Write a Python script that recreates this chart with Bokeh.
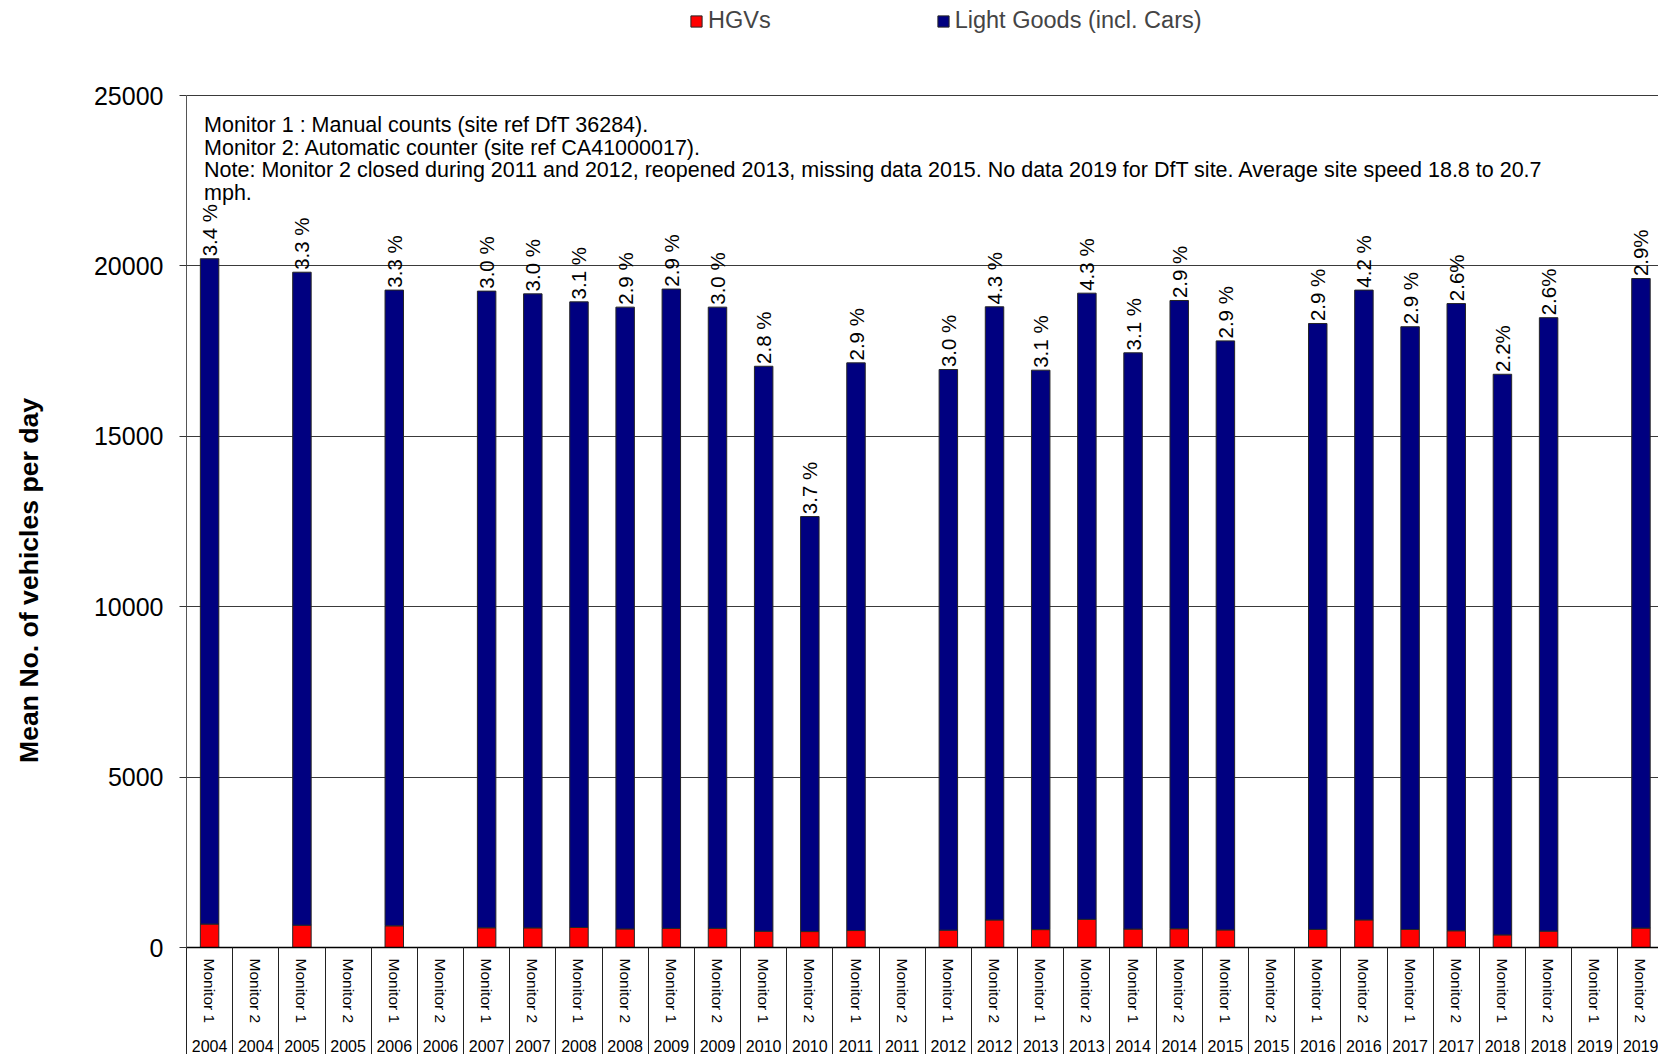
import math

from bokeh.core.properties import value
from bokeh.embed import file_html
from bokeh.layouts import row
from bokeh.models import (ColumnDataSource, FixedTicker, Grid, Label, Legend,
                          LegendItem, LinearAxis, Range1d)
from bokeh.plotting import figure
from bokeh.resources import INLINE

# ---------------------------------------------------------------------------
# Data: mean number of vehicles per day at the two monitoring sites
# ---------------------------------------------------------------------------
years = list(range(2004, 2020))
monitors = ["Monitor 1", "Monitor 2"]

# total vehicles per day (HGVs + light goods), one entry per year/monitor pair
total_vehicles = [
    20210, None,    # 2004
    19815, None,    # 2005
    19290, None,    # 2006
    19260, 19180,   # 2007
    18945, 18790,   # 2008
    19320, 18790,   # 2009
    17055, 12645,   # 2010
    17155, None,    # 2011
    16960, 18800,   # 2012
    16940, 19200,   # 2013
    17450, 18985,   # 2014
    17800, None,    # 2015
    18310, 19290,   # 2016
    18215, 18895,   # 2017
    16820, 18480,   # 2018
    None, 19630,    # 2019
]

# HGV share of the total, as printed above each bar
hgv_share_labels = [
    "3.4 %", None,
    "3.3 %", None,
    "3.3 %", None,
    "3.0 %", "3.0 %",
    "3.1 %", "2.9 %",
    "2.9 %", "3.0 %",
    "2.8 %", "3.7 %",
    "2.9 %", None,
    "3.0 %", "4.3 %",
    "3.1 %", "4.3 %",
    "3.1 %", "2.9 %",
    "2.9 %", None,
    "2.9 %", "4.2 %",
    "2.9 %", "2.6%",
    "2.2%", "2.6%",
    None, "2.9%",
]

notes = [
    "Monitor 1 : Manual counts (site ref DfT 36284).",
    "Monitor 2: Automatic counter (site ref CA41000017).",
    "Note: Monitor 2 closed during 2011 and 2012, reopened 2013, missing data 2015. "
    "No data 2019 for DfT site. Average site speed 18.8 to 20.7",
    "mph.",
]

y_title = "Mean No. of vehicles per day"
y_ticks = [0, 5000, 10000, 15000, 20000, 25000]

categories = [(y, m) for y in years for m in monitors]

# ---------------------------------------------------------------------------
# Build the stacked columns (only where a count exists)
# ---------------------------------------------------------------------------
xs, hgv, light, totals, labels = [], [], [], [], []
for i, (tot, lab) in enumerate(zip(total_vehicles, hgv_share_labels)):
    if tot is None:
        continue
    share = float(lab.replace("%", "").strip())
    h = tot * share / 100.0
    xs.append(i)
    hgv.append(h)
    light.append(tot - h)
    totals.append(tot)
    labels.append(lab)

LABEL_GAP = 70  # vehicles; small lift of the share labels above each column
src = ColumnDataSource(dict(
    x=xs, hgv=hgv, light=light, total=totals, label=labels,
    label_y=[t + LABEL_GAP for t in totals],
))

FONT = "Liberation Sans"
n_cat = len(categories)
SEP_LEN = 107      # length of the column separators below the zero line (px)
TITLE_W = 50       # width of the strip holding the y axis title
HEIGHT = 1054
BOTTOM = 107       # room for the two rows of category labels

# The value axis stops at 25000; the plotting area continues above it so the
# legend across the top can live inside the frame.
Y_AXIS_MAX = 25000
Y_TOP = Y_AXIS_MAX * (HEIGHT - BOTTOM) / 852.0
y_range = Range1d(0, Y_TOP)

# ---------------------------------------------------------------------------
# Narrow strip on the left carrying the rotated y axis title
# ---------------------------------------------------------------------------
strip = figure(
    width=TITLE_W, height=HEIGHT, output_backend="svg", toolbar_location=None,
    x_range=Range1d(0, TITLE_W), y_range=y_range,
    x_axis_location=None, y_axis_location=None,
    min_border_left=0, min_border_right=0,
    min_border_top=0, min_border_bottom=BOTTOM,
)
strip.grid.visible = False
strip.outline_line_color = None
strip.text(x=[28.5], y=[10770], text=[y_title], angle=math.pi / 2,
           text_align="center", text_baseline="middle",
           text_font=value(FONT), text_font_size="26.6px",
           text_font_style="bold", text_color="black")

# ---------------------------------------------------------------------------
# Main chart
# ---------------------------------------------------------------------------
p = figure(
    width=1658 - TITLE_W, height=HEIGHT,
    output_backend="svg", toolbar_location=None,
    x_range=Range1d(-0.5, n_cat - 0.62), y_range=y_range,
    x_axis_location=None, y_axis_location=None,
    min_border_left=186 - TITLE_W, min_border_right=0,
    min_border_top=0, min_border_bottom=BOTTOM,
)
p.grid.visible = False
p.outline_line_color = None
p.background_fill_color = "white"
p.border_fill_color = "white"

# ---- y axis and horizontal grid -------------------------------------------
y_ticker = FixedTicker(ticks=y_ticks)
yaxis = LinearAxis(ticker=y_ticker, bounds=(0, Y_AXIS_MAX))
yaxis.major_label_text_font = FONT
yaxis.major_label_text_font_size = "25px"
yaxis.major_label_text_color = "black"
yaxis.major_label_standoff = 16
yaxis.major_tick_out = 7
yaxis.major_tick_in = 0
yaxis.minor_tick_out = 0
yaxis.minor_tick_in = 0
yaxis.axis_line_color = "#555555"
yaxis.major_tick_line_color = "#333333"
p.add_layout(yaxis, "left")
p.add_layout(Grid(dimension=1, ticker=y_ticker,
                  grid_line_color="#3a3a3a", grid_line_width=1))

# ---- x axis: monitor names, with separators between columns ---------------
mon_axis = LinearAxis(ticker=FixedTicker(
    ticks=list(range(n_cat)),
    minor_ticks=[i - 0.5 for i in range(n_cat + 1)]))
mon_axis.major_label_overrides = {i: m for i, (_, m) in enumerate(categories)}
mon_axis.major_label_orientation = "vertical"
mon_axis.major_label_text_font = FONT
mon_axis.major_label_text_font_size = "15.5px"
mon_axis.major_label_text_color = "black"
mon_axis.major_label_standoff = 11 - SEP_LEN
mon_axis.major_tick_out = 0
mon_axis.major_tick_in = 0
mon_axis.minor_tick_out = SEP_LEN
mon_axis.minor_tick_in = 0
mon_axis.minor_tick_line_color = "#222222"
mon_axis.axis_line_color = "black"
mon_axis.axis_line_width = 1.5
p.add_layout(mon_axis, "below")

# ---- x axis: year of each column -------------------------------------------
year_axis = LinearAxis(ticker=FixedTicker(ticks=list(range(n_cat))))
year_axis.major_label_overrides = {i: str(y) for i, (y, _) in enumerate(categories)}
year_axis.major_label_text_font = FONT
year_axis.major_label_text_font_size = "16px"
year_axis.major_label_text_color = "black"
year_axis.major_label_standoff = 7
year_axis.axis_line_color = None
year_axis.major_tick_line_color = None
year_axis.minor_tick_line_color = None
p.add_layout(year_axis, "below")

# ---- stacked columns -------------------------------------------------------
r_hgv, r_light = p.vbar_stack(
    ["hgv", "light"], x="x", width=0.4, source=src,
    fill_color=["#FF0000", "#000080"], line_color="#262626", line_width=1,
)

# ---- HGV share labels ------------------------------------------------------
p.text(x="x", y="label_y", text="label", source=src,
       angle=math.pi / 2, text_align="left", text_baseline="middle",
       text_font=value(FONT), text_font_size="20.5px", text_color="black")

# ---- notes box inside the plot --------------------------------------------
note_y = [24130, 23450, 22800, 22150]
for line, ny in zip(notes, note_y):
    p.add_layout(Label(x=-0.12, y=ny, text=line, text_font=FONT,
                       text_font_size="21.5px", text_color="black",
                       text_baseline="middle", text_align="left"))

# ---- legend across the top -------------------------------------------------
legend = Legend(
    items=[LegendItem(label="HGVs", renderers=[r_hgv]),
           LegendItem(label="Light Goods (incl. Cars)", renderers=[r_light])],
    location=(503, 913), orientation="horizontal",
    padding=0, margin=0, spacing=165,
    glyph_width=14, glyph_height=14, label_standoff=5,
    label_text_font=FONT, label_text_font_size="23.5px",
    label_text_baseline="middle",
    border_line_color=None, background_fill_alpha=0,
)
p.add_layout(legend)

page = row(strip, p, spacing=0)
open("out.html", "w").write(file_html(page, INLINE))
